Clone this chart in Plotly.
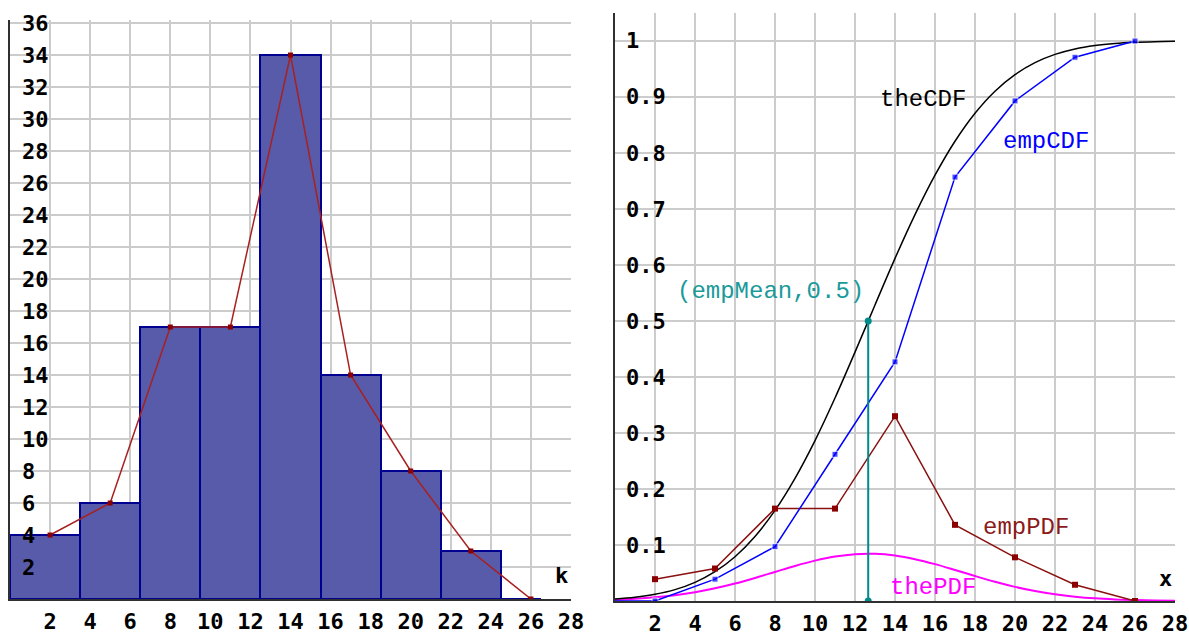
import plotly.graph_objects as go

# ---------------- data ----------------
# left panel: histogram of k
bin_edges = [0, 3.5, 6.5, 9.5, 12.5, 15.5, 18.5, 21.5, 24.5, 26.5]
k_values = [2, 5, 8, 11, 14, 17, 20, 23, 26]
counts = [4, 6, 17, 17, 34, 14, 8, 3, 0]

# right panel
emp_x = [2, 5, 8, 11, 14, 17, 20, 23, 26]
emp_pdf = [0.039, 0.058, 0.165, 0.165, 0.330, 0.136, 0.078, 0.029, 0.0]
emp_cdf_x = [0, 2, 5, 8, 11, 14, 17, 20, 23, 26]
emp_cdf = [0.0, 0.0, 0.039, 0.097, 0.262, 0.427, 0.757, 0.893, 0.971, 1.0]

the_x = list(range(0, 29))
the_cdf = [0.0037, 0.0068, 0.0120, 0.0203, 0.0333, 0.0523, 0.0791, 0.1153,
           0.1618, 0.2191, 0.2865, 0.3625, 0.4444, 0.5287, 0.6118, 0.6900,
           0.7604, 0.8210, 0.8710, 0.9104, 0.9400, 0.9614, 0.9761, 0.9858,
           0.9919, 0.9955, 0.9976, 0.9988, 0.9994]
the_pdf = [0.0023, 0.0040, 0.0066, 0.0104, 0.0157, 0.0227, 0.0312, 0.0412,
           0.0519, 0.0626, 0.0721, 0.0794, 0.0837, 0.0843, 0.0812, 0.0747,
           0.0658, 0.0554, 0.0446, 0.0343, 0.0252, 0.0177, 0.0119, 0.0077,
           0.0047, 0.0028, 0.0016, 0.0009, 0.0004]

emp_mean = 12.66
mean_y = [0.0, 0.5]

left_yticks = list(range(2, 37, 2))
xticks = list(range(2, 29, 2))
right_yticks = [0.1, 0.2, 0.3, 0.4, 0.5, 0.6, 0.7, 0.8, 0.9, 1.0]
right_ylabels = ["0.1", "0.2", "0.3", "0.4", "0.5", "0.6", "0.7", "0.8", "0.9", "1"]

# ---------------- figure ----------------
W, H = 1189, 635
centers = [(a + b) / 2 for a, b in zip(bin_edges[:-1], bin_edges[1:])]
widths = [b - a for a, b in zip(bin_edges[:-1], bin_edges[1:])]

fig = go.Figure()

fig.add_trace(go.Bar(
    x=centers, y=counts, width=widths, xaxis="x", yaxis="y",
    marker=dict(color="rgb(88,91,170)", line=dict(color="#000090", width=2)),
    hoverinfo="skip"))
fig.add_trace(go.Scatter(
    x=k_values, y=counts, xaxis="x", yaxis="y", mode="lines+markers",
    line=dict(color="#a82020", width=1.5),
    marker=dict(symbol="square", size=5, color="#8b0000")))

# right panel traces
fig.add_trace(go.Scatter(x=the_x, y=the_pdf, xaxis="x2", yaxis="y2", mode="lines",
                         line=dict(color="#ff00ff", width=2, shape="spline")))
fig.add_trace(go.Scatter(x=the_x, y=the_cdf, xaxis="x2", yaxis="y2", mode="lines",
                         line=dict(color="black", width=1.5, shape="spline")))
fig.add_trace(go.Scatter(x=emp_x, y=emp_pdf, xaxis="x2", yaxis="y2", mode="lines+markers",
                         line=dict(color="#8b1010", width=1.5),
                         marker=dict(symbol="square", size=6, color="#8b0000")))
fig.add_trace(go.Scatter(x=emp_cdf_x, y=emp_cdf, xaxis="x2", yaxis="y2", mode="lines+markers",
                         line=dict(color="#0000ff", width=1.5),
                         marker=dict(symbol="square", color="#0000ff",
                                     size=[0] + [6] * (len(emp_cdf_x) - 1))))
fig.add_trace(go.Scatter(x=[emp_mean, emp_mean], y=mean_y, xaxis="x2", yaxis="y2",
                         mode="lines+markers",
                         line=dict(color="#008b8b", width=2),
                         marker=dict(symbol="circle", size=7, color="#008b8b")))

tick_font = dict(family="DejaVu Sans Mono", size=22, color="black", weight="bold")
grid = dict(showgrid=True, gridcolor="#cccccc", gridwidth=2, zeroline=False,
            showline=True, linecolor="#303030", linewidth=2, ticks="",
            automargin=False)

fig.update_layout(
    width=W, height=H, margin=dict(l=0, r=0, t=0, b=0, autoexpand=False),
    paper_bgcolor="white", plot_bgcolor="white", showlegend=False,
    bargap=0,
    xaxis=dict(domain=[10 / W, 571 / W], range=[0, 28], tickvals=xticks,
               tickfont=tick_font, anchor="y", ticklabelstandoff=2, **grid),
    yaxis=dict(domain=[(H - 599) / H, (H - 20) / H], range=[0, 36.19],
               tickvals=left_yticks, showticklabels=False, anchor="x", **grid),
    xaxis2=dict(domain=[615 / W, 1175 / W], range=[0, 28], tickvals=xticks,
                tickfont=tick_font, anchor="y2", ticklabelstandoff=2, **grid),
    yaxis2=dict(domain=[(H - 601) / H, (H - 13) / H], range=[0, 1.05],
                tickvals=right_yticks, showticklabels=False, anchor="x2", **grid),
)

# y tick labels drawn inside the plot, just right of the axis line
for v in left_yticks:
    fig.add_annotation(x=0, y=v, xref="x", yref="y", text=str(v), showarrow=False,
                       xanchor="left", yanchor="middle", xshift=10, font=tick_font)
for v, t in zip(right_yticks, right_ylabels):
    fig.add_annotation(x=0, y=v, xref="x2", yref="y2", text=t, showarrow=False,
                       xanchor="left", yanchor="middle", xshift=9, font=tick_font)

lab_font = "Liberation Mono"
annots = [
    dict(text="theCDF", x=15.4, y=0.895, color="black"),
    dict(text="empCDF", x=21.55, y=0.82, color="#0000ff"),
    dict(text="(empMean,0.5)", x=7.75, y=0.552, color="#1a9a9a"),
    dict(text="empPDF", x=20.55, y=0.132, color="#8b1a1a"),
    dict(text="thePDF", x=15.9, y=0.025, color="#ff00ff"),
]
for a in annots:
    fig.add_annotation(x=a["x"], y=a["y"], xref="x2", yref="y2", text=a["text"],
                       showarrow=False, font=dict(family=lab_font, size=24, color=a["color"]))
fig.add_annotation(x=27.5, y=0.041, xref="x2", yref="y2", text="x", showarrow=False,
                   font=dict(family="DejaVu Sans Mono", size=22, color="black", weight="bold"))
fig.add_annotation(x=27.55, y=1.5, xref="x", yref="y", text="k", showarrow=False,
                   font=dict(family="DejaVu Sans Mono", size=22, color="black", weight="bold"))

fig.write_html("out.html", config={"displayModeBar": False},
               post_script="document.body.style.margin='0px';document.body.style.overflow='hidden';")
